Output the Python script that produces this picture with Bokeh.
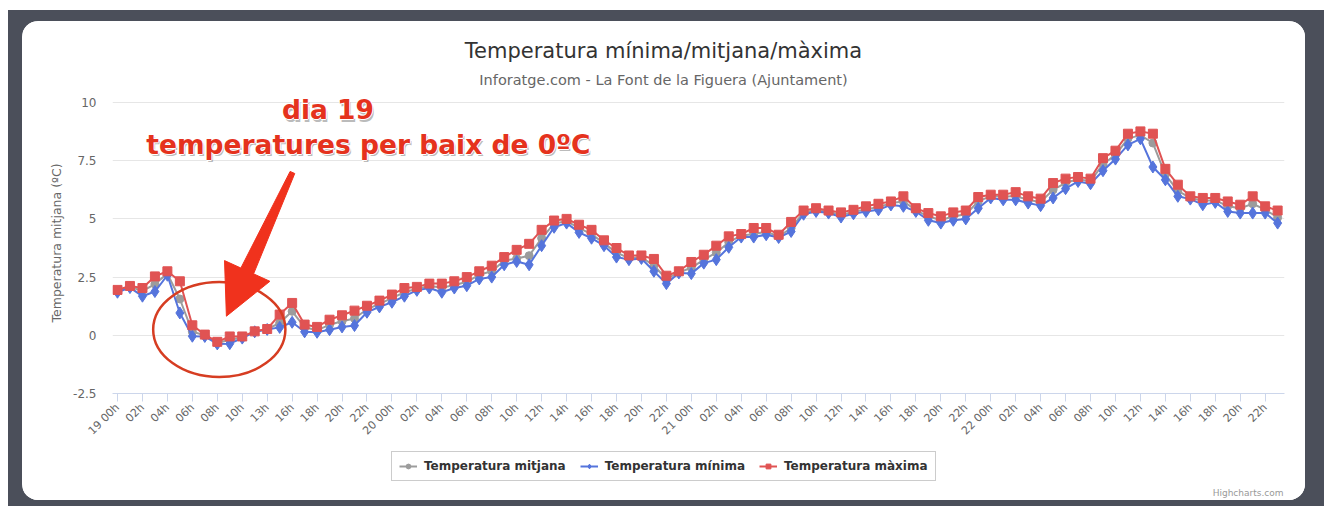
import math
from bokeh.plotting import figure
from bokeh.models import (ColumnDataSource, FixedTicker, Legend, LegendItem, Label, Range1d,
                          Spacer)
from bokeh.layouts import column, row
from bokeh.embed import file_html
from bokeh.resources import INLINE

categories = [
    "19 00h", "01h", "02h", "03h", "04h", "05h", "06h", "07h", "08h", "09h", "10h", "12h",
    "13h", "14h", "16h", "17h", "18h", "19h", "20h", "21h", "22h", "23h",
    "20 00h", "01h", "02h", "03h", "04h", "05h", "06h", "07h", "08h", "09h", "10h", "11h",
    "12h", "13h", "14h", "15h", "16h", "17h", "18h", "19h", "20h", "21h", "22h", "23h",
    "21 00h", "01h", "02h", "03h", "04h", "05h", "06h", "07h", "08h", "09h", "10h", "11h",
    "12h", "13h", "14h", "15h", "16h", "17h", "18h", "19h", "20h", "21h", "22h", "23h",
    "22 00h", "01h", "02h", "03h", "04h", "05h", "06h", "07h", "08h", "09h", "10h", "11h",
    "12h", "13h", "14h", "15h", "16h", "17h", "18h", "19h", "20h", "21h", "22h", "23h",
]

t_mitjana = [
    1.90, 2.08, 1.90, 2.20, 2.65, 1.56, 0.15, 0.00, -0.32, -0.20, -0.08, 0.16,
    0.26, 0.53, 1.03, 0.35, 0.22, 0.45, 0.60, 0.72, 1.12, 1.35,
    1.60, 1.85, 2.00, 2.12, 2.05, 2.15, 2.30, 2.60, 2.75, 3.20, 3.30, 3.42,
    4.17, 4.80, 4.90, 4.60, 4.35, 3.95, 3.55, 3.32, 3.35, 3.00, 2.42, 2.70,
    2.90, 3.25, 3.55, 4.00, 4.28, 4.35, 4.45, 4.25, 4.60, 5.28, 5.38, 5.30,
    5.18, 5.30, 5.42, 5.50, 5.68, 5.75, 5.38, 5.10, 4.95, 5.10, 5.20, 5.75,
    5.98, 5.95, 5.98, 5.82, 5.72, 6.25, 6.55, 6.70, 6.62, 7.35, 7.75, 8.45,
    8.60, 8.26, 6.90, 6.20, 5.90, 5.78, 5.80, 5.55, 5.45, 5.65, 5.40, 5.06,
]

t_minima = [
    1.85, 2.05, 1.68, 1.88, 2.58, 0.96, -0.04, -0.05, -0.37, -0.36, -0.12, 0.15,
    0.25, 0.34, 0.56, 0.15, 0.13, 0.24, 0.36, 0.42, 0.99, 1.22,
    1.42, 1.68, 1.93, 2.03, 1.85, 2.03, 2.13, 2.42, 2.50, 3.03, 3.17, 3.03,
    3.85, 4.64, 4.82, 4.42, 4.17, 3.85, 3.36, 3.25, 3.30, 2.75, 2.22, 2.68,
    2.65, 3.10, 3.25, 3.78, 4.22, 4.22, 4.32, 4.20, 4.46, 5.20, 5.32, 5.25,
    5.08, 5.22, 5.32, 5.39, 5.60, 5.54, 5.32, 4.94, 4.82, 4.94, 5.00, 5.46,
    5.90, 5.82, 5.82, 5.68, 5.57, 5.90, 6.30, 6.61, 6.51, 7.07, 7.57, 8.18,
    8.44, 7.23, 6.68, 5.97, 5.85, 5.61, 5.71, 5.32, 5.25, 5.25, 5.25, 4.82,
]

t_maxima = [
    1.95, 2.12, 2.03, 2.53, 2.75, 2.32, 0.43, 0.03, -0.28, -0.05, -0.05, 0.17,
    0.27, 0.89, 1.39, 0.46, 0.36, 0.67, 0.86, 1.06, 1.27, 1.49,
    1.75, 2.03, 2.08, 2.22, 2.22, 2.32, 2.50, 2.75, 2.99, 3.36, 3.67, 3.93,
    4.53, 4.93, 5.00, 4.75, 4.53, 4.08, 3.75, 3.43, 3.43, 3.28, 2.56, 2.75,
    3.15, 3.46, 3.85, 4.25, 4.35, 4.61, 4.61, 4.32, 4.87, 5.36, 5.46, 5.36,
    5.28, 5.39, 5.54, 5.65, 5.75, 5.97, 5.46, 5.25, 5.11, 5.28, 5.36, 5.94,
    6.04, 6.04, 6.15, 5.97, 5.87, 6.54, 6.73, 6.80, 6.73, 7.61, 7.93, 8.66,
    8.76, 8.66, 7.15, 6.47, 5.97, 5.90, 5.90, 5.75, 5.61, 5.97, 5.54, 5.36,
]

y_ticks = [-2.5, 0, 2.5, 5, 7.5, 10]
y_tick_labels = ["-2.5", "0", "2.5", "5", "7.5", "10"]

series_names = ["Temperatura mitjana", "Temperatura mínima", "Temperatura màxima"]
series_colors = ["#9c9c9c", "#5574dc", "#e05353"]
series_markers = ["circle", "diamond", "square"]
series_sizes = [8, 12, 9]
series_cols = ["mean", "tmin", "tmax"]

FONT = "DejaVu Sans"
DARK = "#4b4f5a"
CARD_W = 1283
FRAME_L, FRAME_R = 90, 1262   # frame edges inside the card (all figures share them)
x_idx = list(range(len(categories)))
src = ColumnDataSource(dict(x=x_idx, mean=t_mitjana, tmin=t_minima, tmax=t_maxima))


def blank_fig(h):
    f = figure(width=CARD_W, height=h, output_backend="svg", toolbar_location=None,
               x_range=Range1d(FRAME_L, FRAME_R), y_range=Range1d(h, 0),
               x_axis_location=None, y_axis_location=None,
               min_border=0, min_border_left=0, min_border_right=0,
               min_border_top=0, min_border_bottom=0,
               background_fill_color="white", border_fill_color="white",
               outline_line_color=None)
    f.grid.visible = False
    return f


# ---------- top: titles ----------
top = blank_fig(71)
top.add_layout(Label(x=641, y=29, text="Temperatura mínima/mitjana/màxima",
                     text_align="center", text_baseline="middle", text_font=FONT,
                     text_font_size="21px", text_color="#333333"))
top.add_layout(Label(x=641, y=58, text="Inforatge.com - La Font de la Figuera (Ajuntament)",
                     text_align="center", text_baseline="middle", text_font=FONT,
                     text_font_size="14.5px", text_color="#666666"))

# ---------- main chart ----------
p = figure(width=CARD_W, height=353, output_backend="svg", toolbar_location=None,
           x_range=Range1d(-0.4, len(categories) - 1 + 0.55), y_range=Range1d(-2.5, 10.43),
           min_border_left=FRAME_L, min_border_right=CARD_W - FRAME_R,
           min_border_top=0, min_border_bottom=52,
           background_fill_color="white", border_fill_color="white", outline_line_color=None)

p.xaxis.ticker = FixedTicker(ticks=list(range(0, len(categories) - 1, 2)))
p.xaxis.major_label_overrides = {i: categories[i] for i in range(0, len(categories) - 1, 2)}
p.xaxis.major_label_orientation = math.pi / 4
p.xaxis.axis_line_color = "#ccd6eb"
p.xaxis.major_tick_line_color = "#ccd6eb"
p.xaxis.major_tick_out = 8
p.xaxis.major_tick_in = 0
p.xaxis.minor_tick_line_color = None
p.xaxis.major_label_text_font = FONT
p.xaxis.major_label_text_font_size = "11px"
p.xaxis.major_label_text_color = "#666666"
p.xaxis.major_label_standoff = 4
p.xgrid.grid_line_color = None

p.yaxis.ticker = FixedTicker(ticks=y_ticks)
p.yaxis.major_label_overrides = dict(zip(y_ticks, y_tick_labels))
p.yaxis.axis_line_color = None
p.yaxis.major_tick_line_color = None
p.yaxis.minor_tick_line_color = None
p.yaxis.major_label_standoff = 10
p.yaxis.major_label_text_font = FONT
p.yaxis.major_label_text_font_size = "12px"
p.yaxis.major_label_text_color = "#666666"
p.yaxis.axis_label = "Temperatura mitjana (ºC)"
p.yaxis.axis_label_text_font = FONT
p.yaxis.axis_label_text_font_size = "12.5px"
p.yaxis.axis_label_text_font_style = "normal"
p.yaxis.axis_label_text_color = "#666666"
p.yaxis.axis_label_standoff = 6
p.ygrid.grid_line_color = "#e6e6e6"
p.ygrid.grid_line_width = 1

for col, color, marker, size in zip(series_cols, series_colors, series_markers, series_sizes):
    p.line("x", col, source=src, line_color=color, line_width=2)
    p.scatter("x", col, source=src, marker=marker, size=size,
              fill_color=color, line_color=color)

# annotation: ellipse + arrow
p.ellipse(x=8.16, y=0.25, width=10.6, height=4.08, fill_color=None,
          line_color="#d63d22", line_width=2.5)
arrow_x = [13.84, 14.21, 10.91, 12.22, 8.73, 8.58, 9.89]
arrow_y = [7.04, 6.95, 2.64, 2.32, 0.82, 3.21, 2.89]
p.patch(arrow_x, arrow_y, fill_color="#f0321d", line_color="#f0321d", line_width=1)

ann_lines = [("dia 19", 16.87, 9.313), ("temperatures per baix de 0ºC", 20.11, 7.81)]
ann_font = dict(text_align="center", text_baseline="alphabetic",
                text_font="DejaVu Sans", text_font_style="bold", text_font_size="26.5px")
BASE_UP = 9
for txt, ax, ay in ann_lines:
    p.add_layout(Label(x=ax, y=ay, text=txt, x_offset=1.5, y_offset=BASE_UP - 2.5,
                       text_color="#777777", text_alpha=0.5, **ann_font))
    for dx, dy in [(-1, 0), (1, 0), (0, -1), (0, 1)]:
        p.add_layout(Label(x=ax, y=ay, text=txt, x_offset=dx, y_offset=BASE_UP + dy,
                           text_color="white", **ann_font))
    p.add_layout(Label(x=ax, y=ay, text=txt, y_offset=BASE_UP,
                       text_color="#e5321d", **ann_font))

# ---------- bottom: legend + credits ----------
bot = blank_fig(55)
bot.extra_y_ranges = {"off": Range1d(100, 101)}
items = []
for name, col, color, marker, size in zip(series_names, series_cols, series_colors,
                                          series_markers, series_sizes):
    lr = bot.line("x", col, source=src, line_color=color, line_width=2, y_range_name="off")
    sr = bot.scatter("x", col, source=src, marker=marker, size=size,
                     fill_color=color, line_color=color, y_range_name="off")
    items.append(LegendItem(label=name, renderers=[lr, sr]))

legend = Legend(items=items, orientation="horizontal", location=(369 - FRAME_L, 19),
                border_line_color="#999999", border_line_width=1,
                background_fill_color="white", background_fill_alpha=1,
                label_text_font=FONT, label_text_font_style="bold",
                label_text_font_size="12px", label_text_color="#333333",
                glyph_width=18, glyph_height=12, spacing=14, padding=7,
                label_standoff=7, margin=0)
bot.add_layout(legend, "center")
bot.add_layout(Label(x=FRAME_R - 1, y=47, text="Highcharts.com", text_align="right",
                     text_baseline="middle", text_font=FONT, text_font_size="9px",
                     text_color="#999999"))

# ---------- card + dark backdrop ----------
card = column(top, p, bot, spacing=0,
              styles={"border-radius": "16px", "overflow": "hidden", "background-color": "white"})
dark_box = column(Spacer(width=1316, height=11),
                  row(Spacer(width=14, height=479), card, Spacer(width=19, height=479), spacing=0),
                  Spacer(width=1316, height=6),
                  spacing=0, styles={"background-color": DARK})
outer = column(Spacer(width=1324, height=10),
               row(Spacer(width=8, height=496), dark_box, spacing=0),
               spacing=0)

open("out.html", "w").write(file_html(outer, INLINE))
